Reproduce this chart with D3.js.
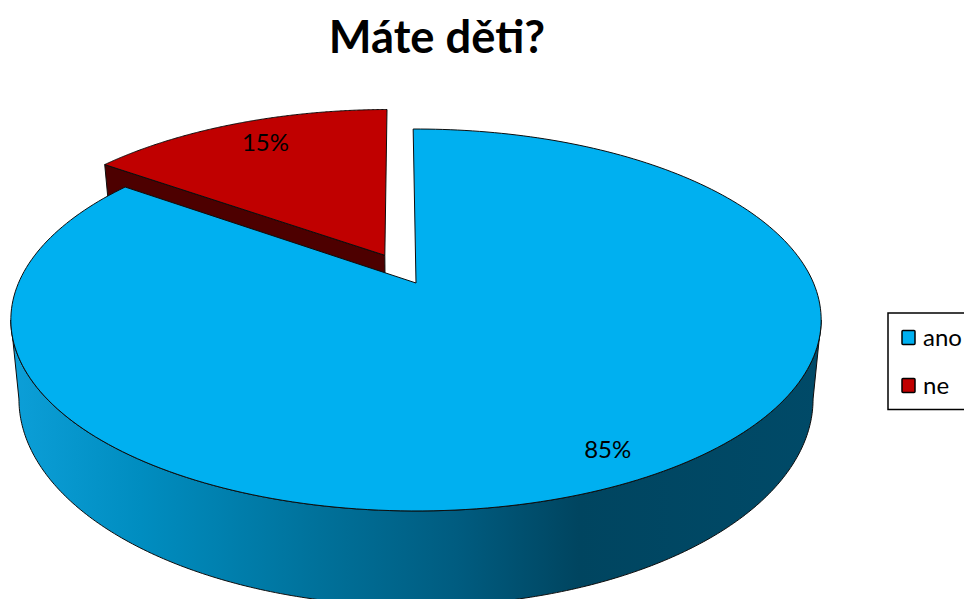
<!DOCTYPE html>
<html>
<head>
<meta charset="utf-8">
<script src="https://cdn.jsdelivr.net/npm/d3@7"></script>
<style>
html,body{margin:0;padding:0;background:#fff;overflow:hidden}
text{font-family:Lato,"Open Sans",sans-serif;fill:#000}
</style>
</head>
<body>
<svg id="chart" width="964" height="599"></svg>
<script>
// Share of respondents per answer
const categories = ["ano", "ne"];
const shares = [85, 15];
const percentLabels = ["85%", "15%"];
const titleText = "Máte děti?";
const topColors = ["#00b0f0", "#c00000"];
const sideColors = ["#00b0f0", "#4d0000"];
const explode = [0, 0.175];

// Tilted pie plane: a projective map of the unit disc
const centre = {x: 416, y: 283};
const tilt = -0.1937, scaleA = 397.5, scaleB = 183.8;
// Lower rim of the wall, relative to the rim's own centre line
const rimY = 320, lowerY = 399, shrinkX = 0.98, stretchY = 1.084;
const rotation = -0.0085;

function project(a, b) {
  const w = 1 + tilt * b;
  return [centre.x + scaleA * a / w, centre.y + scaleB * b / w];
}
function lower(p) {
  return [centre.x + shrinkX * (p[0] - centre.x), lowerY + stretchY * (p[1] - rimY)];
}
function planePoint(theta, r, slice) {
  const mid = (slice.startAngle + slice.endAngle) / 2;
  const e = explode[slice.index];
  return project(r * Math.sin(theta) + e * Math.sin(mid), -r * Math.cos(theta) - e * Math.cos(mid));
}
function arcPoints(slice, from, to) {
  return d3.range(0, 241).map(i => planePoint(from + (to - from) * i / 240, 1, slice));
}

const svg = d3.select("#chart");
const line = d3.line();
const pie = d3.pie().sort(null).startAngle(rotation).endAngle(2 * Math.PI + rotation)(shares);

// Horizontal shading on the outer wall
const grad = svg.append("defs").append("linearGradient")
  .attr("id", "wallShade").attr("gradientUnits", "userSpaceOnUse")
  .attr("x1", 11).attr("x2", 822).attr("y1", 0).attr("y2", 0);
[[0, "#0c9fd8"], [0.16, "#008dc0"], [0.38, "#00719a"], [0.55, "#005c80"], [0.70, "#004560"], [1, "#004a68"]]
  .forEach(s => grad.append("stop").attr("offset", s[0]).attr("stop-color", s[1]));

const edge = {stroke: "#0d0d0d", width: 1};

// Red slice first: it sits behind the large slice
const red = pie[1], blue = pie[0];
const redInner = planePoint(0, 0, red), redLeft = planePoint(red.startAngle, 1, red);
svg.append("path")
  .attr("d", line([redLeft, redInner, lower(redInner), lower(redLeft)]) + "Z")
  .attr("fill", sideColors[1]).attr("stroke", edge.stroke).attr("stroke-width", edge.width);
svg.append("path")
  .attr("d", line([redInner, ...arcPoints(red, red.startAngle, red.endAngle)]) + "Z")
  .attr("fill", topColors[1]).attr("stroke", edge.stroke).attr("stroke-width", edge.width);

// Front wall of the large slice, between the two silhouette points of the rim
const sil = Math.acos(tilt);
const rim = arcPoints(blue, sil, 2 * Math.PI - sil);
svg.append("path")
  .attr("d", line([...rim, ...rim.slice().reverse().map(lower)]) + "Z")
  .attr("fill", "url(#wallShade)").attr("stroke", edge.stroke).attr("stroke-width", edge.width);

// Top face of the large slice
svg.append("path")
  .attr("d", line([planePoint(0, 0, blue), ...arcPoints(blue, blue.startAngle, blue.endAngle)]) + "Z")
  .attr("fill", topColors[0]).attr("stroke", edge.stroke).attr("stroke-width", edge.width);

// Percent labels placed on the slice faces
const labelRadius = 0.87;
const labelShift = [[4, -1], [12, 3]];
pie.forEach((s, i) => {
  const mid = (s.startAngle + s.endAngle) / 2;
  const p = planePoint(mid, labelRadius, s);
  svg.append("text")
    .attr("x", p[0] + labelShift[i][0]).attr("y", p[1] + labelShift[i][1])
    .attr("text-anchor", "middle").attr("dominant-baseline", "central")
    .attr("font-size", 24).text(percentLabels[i]);
});

// Title
svg.append("text").attr("x", 437).attr("y", 53).attr("text-anchor", "middle")
  .attr("font-size", 45.3).attr("font-weight", 700).text(titleText);

// Legend, running off the right edge of the canvas
const legend = svg.append("g");
legend.append("rect").attr("x", 888).attr("y", 313).attr("width", 90).attr("height", 96.5)
  .attr("fill", "#fff").attr("stroke", "#000").attr("stroke-width", 1.5);
const legendY = d3.scalePoint().domain(categories).range([337.5, 385.5]);
categories.forEach((c, i) => {
  legend.append("rect").attr("x", 902).attr("y", legendY(c) - 7).attr("width", 13).attr("height", 14)
    .attr("rx", 1).attr("fill", topColors[i]).attr("stroke", "#000").attr("stroke-width", 1.5);
  legend.append("text").attr("x", 923).attr("y", legendY(c) - 1.5).attr("dominant-baseline", "central")
    .attr("font-size", 24).text(c);
});
</script>
</body>
</html>
